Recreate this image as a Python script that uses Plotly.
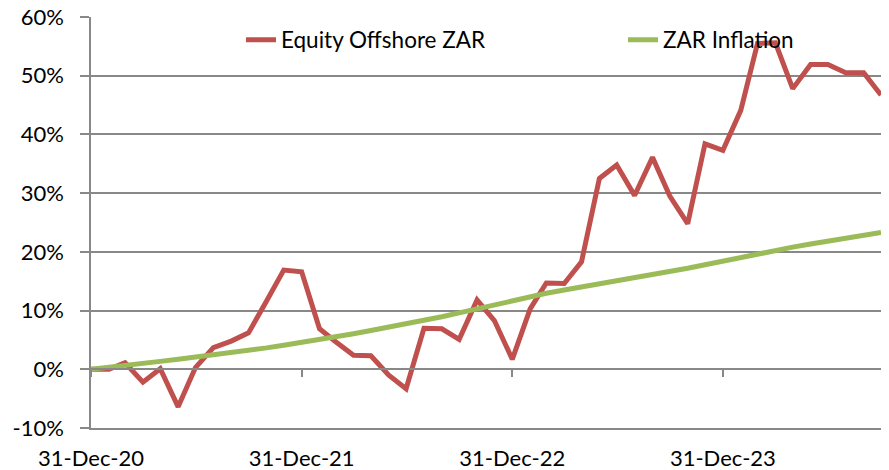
import pandas as pd
import plotly.graph_objects as go

dates = pd.date_range("2020-12-31", periods=46, freq="ME")

equity_offshore_zar = [
    0.0, 0.0, 1.1, -2.2, 0.1, -6.4, 0.3, 3.7, 4.8, 6.2, 11.6, 16.9,
    16.6, 6.9, 4.7, 2.4, 2.3, -1.0, -3.3, 7.0, 6.9, 5.1, 11.8, 8.3,
    1.7, 10.3, 14.7, 14.6, 18.3, 32.5, 34.8, 29.6, 36.1, 29.5, 24.8, 38.4,
    37.3, 44.1, 55.5, 55.6, 47.8, 51.9, 51.9, 50.5, 50.5, 46.7,
]
zar_inflation = [
    0.0, 0.3, 0.65, 1.0, 1.35, 1.7, 2.05, 2.45, 2.85, 3.25, 3.65, 4.1,
    4.55, 5.05, 5.55, 6.05, 6.6, 7.15, 7.7, 8.3, 8.95, 9.6, 10.3, 11.05,
    11.8, 12.4, 12.95, 13.5, 14.0, 14.5, 15.0, 15.5, 16.05, 16.6, 17.2, 17.8,
    18.45, 19.05, 19.65, 20.25, 20.8, 21.35, 21.85, 22.35, 22.85, 23.3,
]

tick_dates = ["2020-12-31", "2021-12-31", "2022-12-31", "2023-12-31"]
tick_labels = ["31-Dec-20", "31-Dec-21", "31-Dec-22", "31-Dec-23"]
y_ticks = [-10, 0, 10, 20, 30, 40, 50, 60]
y_labels = ["-10%", "0%", "10%", "20%", "30%", "40%", "50%", "60%"]

FONT = "Lato"
GRID = "#888888"

fig = go.Figure()
fig.add_trace(go.Scatter(x=dates, y=equity_offshore_zar, mode="lines",
                         name="Equity Offshore ZAR", legend="legend",
                         line=dict(color="#C0504D", width=5)))
fig.add_trace(go.Scatter(x=dates, y=zar_inflation, mode="lines",
                         name="ZAR Inflation", legend="legend2",
                         line=dict(color="#9BBB59", width=5)))

x_range = [dates[0], pd.Timestamp("2024-09-30")]

PLOT_W = 881 - 91
leg_common = dict(orientation="h", yanchor="middle", y=0.944, xanchor="left",
                  bgcolor="rgba(0,0,0,0)", font=dict(family=FONT, size=22.5),
                  itemsizing="constant")

fig.update_layout(
    width=889, height=470,
    margin=dict(l=91, r=8, t=17, b=42),
    paper_bgcolor="white", plot_bgcolor="white",
    font=dict(family=FONT, size=22, color="black"),
    showlegend=True,
    legend=dict(x=(241 - 91) / PLOT_W, **leg_common),
    legend2=dict(x=(623 - 91) / PLOT_W, **leg_common),
    xaxis=dict(range=x_range, tickvals=tick_dates, ticktext=tick_labels,
               showgrid=False, zeroline=False, showline=True, linecolor=GRID,
               linewidth=1.5, ticks="", ticklabelstandoff=10, automargin=False,
               ticklabeloverflow="allow"),
    xaxis2=dict(overlaying="x", matches="x", anchor="free", position=1/7,
                tickvals=tick_dates, showticklabels=False, showgrid=False,
                zeroline=False, showline=True, linecolor=GRID, linewidth=1.5,
                ticks="outside", ticklen=7, tickcolor=GRID, tickwidth=1.5),
    yaxis=dict(range=[-10, 60], tickvals=y_ticks, ticktext=y_labels,
               showgrid=True, gridcolor=GRID, gridwidth=1.5, zeroline=False,
               showline=True, linecolor=GRID, linewidth=1.5,
               ticks="outside", ticklen=9, tickcolor=GRID, tickwidth=1.5,
               ticklabelstandoff=12, automargin=False,
               ticklabeloverflow="allow"),
)
# invisible trace so the overlay axis (tick marks on the 0% line) is drawn
fig.add_trace(go.Scatter(x=[dates[0]], y=[None], xaxis="x2", showlegend=False,
                         hoverinfo="skip"))

fig.write_html("out.html",
               config={"displayModeBar": False},
               post_script="document.body.style.margin='0';"
                           "document.body.style.overflow='hidden';")
